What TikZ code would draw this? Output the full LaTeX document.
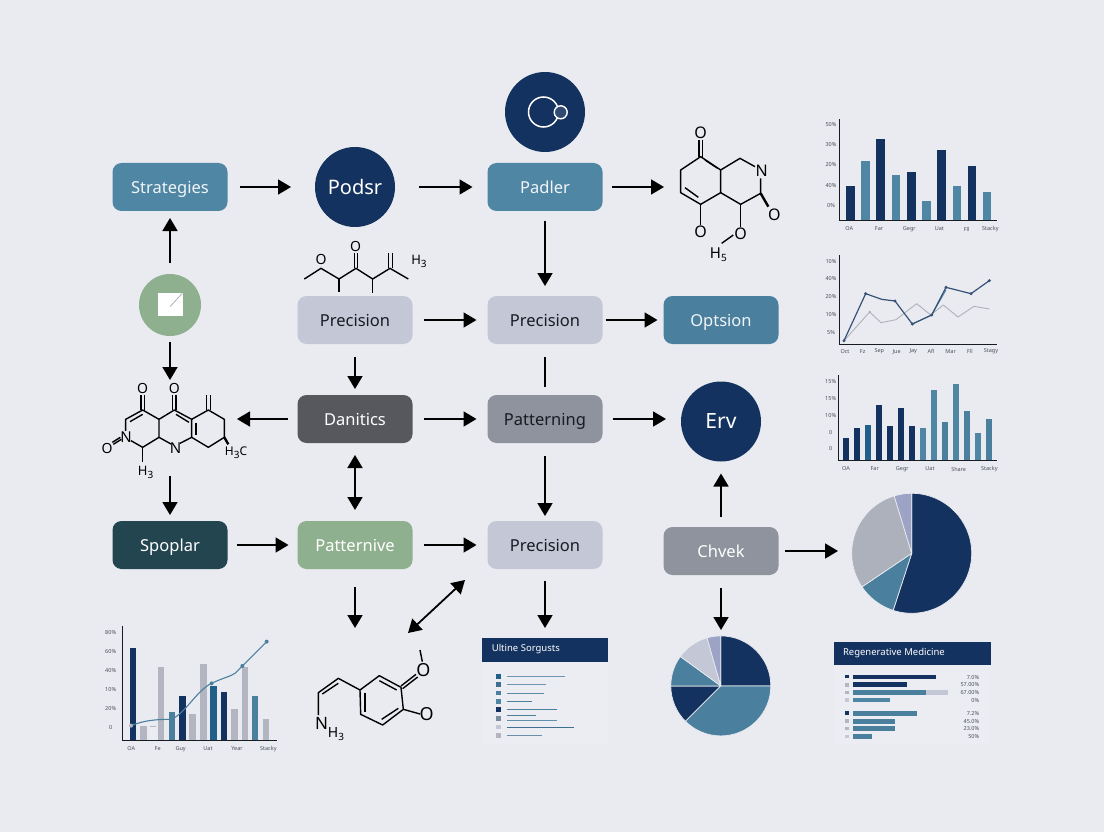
\documentclass[tikz,border=0pt]{standalone}
\usepackage{fontspec}
\setmainfont{Noto Sans}
\usetikzlibrary{arrows.meta}
\definecolor{paper}{HTML}{E9EBF0}
\definecolor{panel}{HTML}{EBEDF2}
\definecolor{navy}{HTML}{14325F}
\definecolor{steel}{HTML}{4F86A3}
\definecolor{steelb}{HTML}{4A7F9E}
\definecolor{midblue}{HTML}{1F5F88}
\definecolor{lilac}{HTML}{C4C8D6}
\definecolor{coal}{HTML}{56585E}
\definecolor{slate}{HTML}{8E939D}
\definecolor{pine}{HTML}{234550}
\definecolor{sage}{HTML}{8FB08F}
\definecolor{ink}{HTML}{171B24}
\definecolor{pale}{HTML}{B3B6C1}
\definecolor{lav}{HTML}{9DA3C4}
\definecolor{pgray}{HTML}{ADB1BC}
\definecolor{cap}{HTML}{4A4F5C}
\newcommand{\lowsub}[1]{{\fontsize{10}{10}\selectfont\raisebox{-3pt}{#1}}}
\tikzset{
 flowbox/.style={rectangle,rounded corners=9pt,minimum width=115pt,minimum height=48pt,outer sep=0pt,inner sep=0pt,text height=16pt,text depth=3pt,font=\fontsize{16.5}{18}\selectfont},
 flowcirc/.style={circle,fill=navy,minimum size=80pt,outer sep=0pt,inner sep=0pt,text=white,font=\fontsize{20}{21}\selectfont},
 conn/.style={draw=black,line width=1.8pt,-{Triangle[length=13pt,width=15pt]}},
 conb/.style={draw=black,line width=1.8pt,{Triangle[length=13pt,width=15pt]}-{Triangle[length=13pt,width=15pt]}},
 plain/.style={draw=black,line width=1.8pt},
 bond/.style={draw=black,line width=1.4pt,line join=round},
 thickb/.style={draw=black,line width=2.4pt},
 atom/.style={inner sep=0pt,text=black,font=\fontsize{15}{15}\selectfont},
 axisl/.style={draw=ink,line width=1pt},
 ticklab/.style={inner sep=0pt,text=cap,font=\fontsize{5.5}{6}\selectfont},
 piecut/.style={draw=paper,line width=.7pt,line join=round},
}
\begin{document}
\begin{tikzpicture}[x=1pt,y=-1pt]
\useasboundingbox (0,0) rectangle (1104,832);
\fill[paper] (0,0) rectangle (1104,832);

% ---------- flow nodes
\node[flowbox,fill=steel,text=white!92!steel] (strat) at (170,187) {Strategies};
\node[flowcirc] (podsr) at (355,187) {Podsr};
\node[flowbox,fill=steel,text=white!92!steel] (padler) at (545,187) {Padler};
\node[flowcirc] (topc) at (545,112) {};
\node[flowbox,fill=lilac,text=ink] (prec1) at (355,320) {Precision};
\node[flowbox,fill=lilac,text=ink] (prec2) at (545,320) {Precision};
\node[flowbox,fill=steelb,text=white!92!steel] (opt) at (721,320) {Optsion};
\node[circle,fill=sage,minimum size=62pt,inner sep=0pt,outer sep=0pt] (green) at (170,305) {};
\node[flowbox,fill=coal,text=white] (dan) at (355,419) {Danitics};
\node[flowbox,fill=slate,text=ink] (patt) at (545,419) {Patterning};
\node[flowcirc,font=\fontsize{21}{22}\selectfont] (erv) at (721,421.5) {Erv};
\node[flowbox,fill=pine,text=white] (spop) at (170,545) {Spoplar};
\node[flowbox,fill=sage,text=white] (ptve) at (355,545) {Patternive};
\node[flowbox,fill=lilac,text=ink] (prec3) at (545,545) {Precision};
\node[flowbox,fill=slate,text=white] (chvek) at (721,551) {Chvek};

% icons in the circles
\fill[white] (157.7,292.7) rectangle (182.7,316);
\draw[pgray,line width=.8pt] (170,306.7) -- (182.3,293.3);
\draw[white,line width=1.5pt] (543.5,112) circle[radius=15];
\filldraw[draw=white,fill=navy!88!white,line width=1.4pt] (560.7,112.3) circle[radius=6.5];

% ---------- free ends of connectors
\coordinate (molAin) at (664,187);
\coordinate (molBin) at (170,380);
\coordinate (molBinL) at (237,419);
\coordinate (molBout) at (170,476);
\coordinate (pieRin) at (838,551);
\coordinate (pieBin) at (721,630);
\coordinate (molCin) at (355,628);
\coordinate (repAin) at (545,628);
\coordinate (diagA) at (465,580);
\coordinate (diagB) at (408,633);

% ---------- connectors
\draw[conn,shorten <=12pt,shorten >=24pt] (strat) -- (podsr);
\draw[conn,shorten <=24pt,shorten >=15pt] (podsr) -- (padler);
\draw[conn,shorten <=9pt] (padler) -- (molAin);
\draw[conn,shorten <=11pt,shorten >=7pt] (green) -- (strat);
\draw[conn,shorten <=6pt] (green) -- (molBin);
\draw[conn,shorten <=10pt,shorten >=10pt] (padler) -- (prec2);
\draw[conn,shorten <=11pt,shorten >=11pt] (prec1) -- (prec2);
\draw[conn,shorten <=3pt,shorten >=6pt] (prec2) -- (opt);
\draw[conn,shorten <=13pt,shorten >=6pt] (prec1) -- (dan);
\draw[plain,shorten <=13pt,shorten >=8pt] (prec2) -- (patt);
\draw[conn,shorten <=10pt] (dan) -- (molBinL);
\draw[conn,shorten <=11pt,shorten >=11pt] (dan) -- (patt);
\draw[conn,shorten <=10pt,shorten >=55pt] (patt) -- (patt -| erv);
\draw[conb,shorten <=12pt,shorten >=11pt] (dan) -- (ptve);
\draw[conn,shorten <=13pt,shorten >=5pt] (patt) -- (prec3);
\draw[conn,shorten >=6pt] (molBout) -- (spop);
\draw[conn,shorten <=9pt,shorten >=9pt] (spop) -- (ptve);
\draw[conn,shorten <=11pt,shorten >=11pt] (ptve) -- (prec3);
\draw[conn,shorten <=10pt,shorten >=12pt] (chvek) -- (erv);
\draw[conn,shorten <=6pt] (chvek) -- (pieRin);
\draw[conn,shorten <=13pt] (chvek) -- (pieBin);
\draw[conn,shorten <=18pt] (ptve) -- (molCin);
\draw[conn,shorten <=12pt] (prec3) -- (repAin);
\draw[conb] (diagA) -- (diagB);

% ---------- molecules: top-left chain and bottom-left tricycle
\begin{scope}[shift={(95,230)},x=.33333pt,y=-.33333pt]
\draw[bond] (628,147) -- (678,115) -- (732,147) -- (783,115) -- (833,147) -- (885,115) -- (940,147);
\draw[bond] (732,147) -- (732,185) (833,147) -- (833,190);
\draw[bond] (778,115) -- (778,70) (788,115) -- (788,70);
\draw[bond] (880,115) -- (880,68) (892,115) -- (892,68);
\node[atom,font=\fontsize{14}{14}\selectfont] (a1) at (678,88) {O};
\node[atom,font=\fontsize{14}{14}\selectfont] (a2) at (782,50) {O};
\node[atom,font=\fontsize{13}{13}\selectfont] (a3) at (972,93) {H\lowsub{3}};
\draw[bond] (108,632) -- (143,652) -- (192,622) -- (192,568) -- (143,540) -- (92,568) -- (92,603);
\draw[bond] (105,575) -- (143,553);
\draw[bond] (138,540) -- (138,495) (148,540) -- (148,495);
\draw[bond] (192,568) -- (238,540) -- (290,568) -- (290,622) -- (255,640);
\draw[bond] (192,622) -- (228,642);
\draw[bond] (233,540) -- (233,495) (243,540) -- (243,495);
\draw[bond] (243,553) -- (282,577);
\draw[bond] (290,568) -- (340,540) -- (388,568) -- (388,622) -- (340,652) -- (290,622);
\draw[bond] (303,578) -- (303,615);
\draw[bond] (335,540) -- (335,495) (347,540) -- (347,495);
\draw[thickb] (388,622) -- (400,643);
\draw[bond] (143,652) -- (143,697);
\draw[bond] (52,637) -- (76,622) (55,643) -- (79,628);
\node[atom,font=\fontsize{14}{14}\selectfont] (b1) at (143,475) {O};
\node[atom,font=\fontsize{14}{14}\selectfont] (b2) at (238,475) {O};
\node[atom] (b3) at (93,622) {N};
\node[atom,font=\fontsize{14}{14}\selectfont] (b4) at (36,655) {O};
\node[atom] (b5) at (242,653) {N};
\node[atom,font=\fontsize{13}{13}\selectfont] (b6) at (152,728) {H\lowsub{3}};
\node[atom,font=\fontsize{12}{12}\selectfont] (b7) at (423,668) {H\lowsub{3}C};
\end{scope}

% ---------- molecule top right
\begin{scope}[shift={(490,65)},x=.33333pt,y=-.33333pt]
\draw[bond] (632,275) -- (692,315) -- (692,383) -- (632,418) -- (572,383) -- (572,315) -- cycle;
\draw[bond] (645,285) -- (683,310);
\draw[bond] (585,368) -- (625,397);
\draw[bond] (627,275) -- (627,225) (637,275) -- (637,225);
\draw[bond] (692,315) -- (750,280) -- (795,305);
\draw[bond] (812,340) -- (812,385) -- (752,418) -- (692,383);
\draw[thickb] (812,385) -- (835,425);
\draw[bond] (632,418) -- (632,480);
\draw[bond] (752,418) -- (752,485);
\draw[bond] (730,510) -- (695,535);
\node[atom,font=\fontsize{16}{16}\selectfont] (c1) at (632,203) {O};
\node[atom,font=\fontsize{16}{16}\selectfont] (c2) at (815,318) {N};
\node[atom,font=\fontsize{16}{16}\selectfont] (c3) at (853,450) {O};
\node[atom,font=\fontsize{16}{16}\selectfont] (c4) at (632,500) {O};
\node[atom,font=\fontsize{16}{16}\selectfont] (c5) at (752,505) {O};
\node[atom,font=\fontsize{15}{15}\selectfont] (c6) at (685,568) {H\lowsub{5}};
\end{scope}

% ---------- molecule bottom centre and chart bottom left
\begin{scope}[shift={(90,610)},x=.33333pt,y=-.33333pt]
\draw[bond] (685,315) -- (685,248) -- (745,205) -- (810,240);
\draw[bond] (697,252) -- (745,220);
\draw[bond] (810,240) -- (868,197) -- (933,232) -- (940,298) -- (878,345) -- (812,313) -- cycle;
\draw[bond] (825,248) -- (825,305);
\draw[bond] (868,212) -- (920,240);
\draw[bond] (875,328) -- (925,295);
\draw[bond] (933,228) -- (978,193) (938,236) -- (983,201);
\draw[bond] (990,120) -- (997,155);
\draw[bond] (940,298) -- (990,312);
\node[atom,font=\fontsize{18}{18}\selectfont] (d1) at (1000,180) {O};
\node[atom,font=\fontsize{18}{18}\selectfont] (d2) at (1010,311) {O};
\node[atom,font=\fontsize{17}{17}\selectfont] (d3) at (695,340) {N};
\node[atom,font=\fontsize{14}{14}\selectfont] (d4) at (738,372) {H\lowsub{3}};
% bars
\foreach \l/\r/\t/\c in {120/138/115/navy,150/172/347/pale,180/198/350/panel,203/223/170/pale,236/255/307/steelb,267/287/259/navy,298/318/311/pale,330/351/163/pale,361/380/227/midblue,392/411/245/navy,423/444/296/pale,456/475/170/pale,486/505/259/steelb,518/537/327/pale}
  \fill[\c] (\l,\t) rectangle (\r,391);
\draw[pale,line width=.8pt] (180,350) -- (198,350);
\draw[axisl] (96,47) -- (96,391) -- (560,391);
\draw[steelb,line width=1.1pt] (123,347) .. controls (160,332) and (195,328) .. (240,328) .. controls (280,320) and (320,240) .. (365,220) .. controls (395,205) and (420,200) .. (435,190) -- (457,168) -- (530,95);
\fill[pale] (123,347) circle[radius=6];
\fill[steelb] (365,220) circle[radius=6] (457,168) circle[radius=6] (530,95) circle[radius=6];
\foreach \y/\s in {68/80\%,124/60\%,181/40\%,238/10\%,295/20\%,352/0}
  \node[ticklab,name=e\y] at (62,\y) {\s};
\foreach \x/\s in {124/OA,203/Fe,272/Guy,354/Uat,441/Year,535/Stacky}
  \node[ticklab,name=f\x] at (\x,417) {\s};
\end{scope}

% ---------- charts on the right
\begin{scope}[shift={(800,100)},x=.33333pt,y=-.33333pt]
% chart 1
\foreach \l/\r/\t/\c in {138/164/257/navy,184/210/184/steel,229/255/118/navy,276/301/225/steel,321/348/215/navy,367/393/303/steel,412/439/149/navy,458/483/257/steel,503/529/198/navy,549/574/276/steel}
  \fill[\c] (\l,\t) rectangle (\r,362);
\draw[axisl] (118,57) -- (118,362) -- (590,362);
\foreach \y/\s in {73/50\%,134/30\%,195/20\%,256/40\%,316/0\%}
  \node[ticklab,name=g\y] at (93,\y) {\s};
\foreach \x/\s in {148/OA,237/Far,328/Gegr,418/Uat,500/Fll,571/Stacky}
  \node[ticklab,name=h\x] at (\x,387) {\s};
% chart 2
\draw[axisl] (118,465) -- (118,735) -- (592,735);
\draw[pgray,line width=.9pt,line join=round] (132,722) -- (209,636) -- (243,668) -- (288,659) -- (350,611) -- (392,645) -- (430,615) -- (474,651) -- (522,619) -- (568,627);
\draw[steel,line width=.9pt,line join=round] (337,672) -- (395,645) -- (438,570);
\draw[navy!85!white,line width=1.2pt,line join=round] (132,722) -- (197,581) -- (245,598) -- (285,603) -- (337,672) -- (395,645) -- (438,562) -- (513,581) -- (568,542);
\foreach \p in {(132,722),(197,581),(285,603),(337,672),(395,645),(438,562),(513,581),(568,542)}
  \fill[navy!85!white] \p circle[radius=5];
\foreach \p in {(209,636)} \fill[pgray] \p circle[radius=4];
\foreach \y/\s in {484/10\%,536/40\%,590/20\%,644/10\%,697/5\%}
  \node[ticklab,name=i\y] at (93,\y) {\s};
\foreach \x/\s in {135/Oct,188/Fz,238/Sep,290/Jue,340/Jay,393/Afl,452/Mar,510/Fll,573/Stagy}
  \node[ticklab,name=j\x] at (\x,755) {\s};
% chart 3
\foreach \l/\r/\t/\c in {129/147/1015/navy,162/180/984/navy,196/214/975/midblue,228/246/914/navy,261/279/977/navy,295/312/924/navy,327/345/977/navy,360/378/984/steel,393/411/870/steel,426/444/967/steelb,459/477/852/steel,492/510/932/steelb,524/542/1000/steel,557/575/958/steelb}
  \fill[\c] (\l,\t) rectangle (\r,1082);
\draw[axisl] (115,825) -- (115,1082) -- (590,1082);
\foreach \y/\s in {845/15\%,895/15\%,947/10\%,997/0,1047/0}
  \node[ticklab,name=k\y] at (92,\y) {\s};
\foreach \x/\s in {138/OA,224/Far,307/Gegr,390/Uat,476/Share,568/Stacky}
  \node[ticklab,name=l\x] at (\x,1107) {\s};
\end{scope}

% ---------- pie charts
\begin{scope}[shift={(911.7,553.3)},x=1pt,y=1pt]
\foreach \a/\b/\c in {90/-108/navy,252/214/steelb,214/107/pgray,107/90/lav}
  \path[piecut,fill=\c] (0,0) -- (\a:60) arc[start angle=\a,end angle=\b,radius=60] -- cycle;
\end{scope}
\begin{scope}[shift={(720.8,685.9)},x=1pt,y=1pt]
\foreach \a/\b/\c in {90/0/navy,360/225/steelb,225/180/navy,180/144/steelb,144/106/lilac,106/90/lav}
  \path[piecut,fill=\c] (0,0) -- (\a:50) arc[start angle=\a,end angle=\b,radius=50] -- cycle;
\end{scope}

% ---------- report panels
\begin{scope}[shift={(470,625)},x=.338pt,y=-.338pt]
% left report
\fill[panel] (36,108) rectangle (408,352);
\fill[navy] (36,37) rectangle (408,108);
\node[anchor=west,inner sep=0pt,text=white,font=\fontsize{9.5}{10}\selectfont] (repA) at (64,72) {Ultine Sorgusts};
\foreach \y/\c in {152/midblue,177/steelb!80!navy,201/steelb,226/steel,251/navy,277/slate!70!steelb,302/lilac,327/pale}
  \fill[\c] (76,\y-7) rectangle (92,\y+7);
\foreach \e/\y/\c in {282/152/steel!70!pale,226/177/steel!70!pale,218/203/steelb!80!pale,184/226/steelb,258/251/steelb,195/268/steelb,257/282/steel!80!pale,308/303/steelb!80!navy,214/326/steelb!70!pale}
  \draw[\c,line width=1pt] (108,\y) -- (\e,\y);
% right report
\fill[panel] (1078,117) rectangle (1541,352);
\fill[navy] (1078,49) rectangle (1541,117);
\node[anchor=west,inner sep=0pt,text=white,font=\fontsize{9.5}{10}\selectfont] (repB) at (1103,83) {Regenerative Medicine};
\foreach \y/\c in {153/navy,177/pale,200/pale,222/lilac,260/navy,284/pale,307/pale,330/lilac}
  \fill[\c] (1110,\y-5) rectangle (1120,\y+5);
\fill[lilac] (1350,193) rectangle (1414,207);
\foreach \e/\y/\c in {1378/154/navy,1294/177/navy,1350/200/steelb,1243/222/steel,1321/261/steelb,1257/285/steelb,1258/307/steelb,1189/330/steelb}
  \fill[\c] (1134,\y-7) rectangle (\e,\y+7);
\foreach \y/\s in {154/7.0\%,177/57.00\%,200/67.00\%,222/0\%,261/7.2\%,285/45.0\%,307/23.0\%,330/50\%}
  \node[ticklab,anchor=east,name=r\y] at (1507,\y) {\s};
\end{scope}
\end{tikzpicture}
\end{document}
